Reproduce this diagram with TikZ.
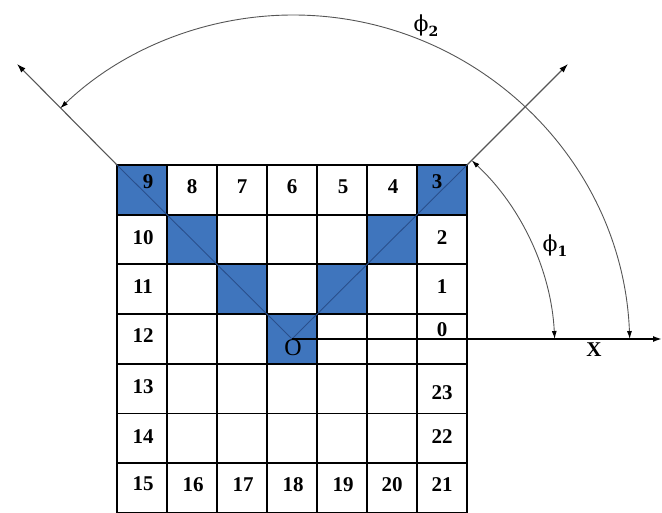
\documentclass[tikz,border=0pt]{standalone}
\usepackage{fontspec}
\setmainfont{Liberation Serif}
\newfontfamily\phifont{DejaVu Serif}
\usetikzlibrary{arrows.meta}
\definecolor{cellblue}{HTML}{3F75BD}
\definecolor{diagblue}{HTML}{2A4F8C}
\definecolor{guide}{HTML}{555555}
\begin{document}
\begin{tikzpicture}[x=1pt,y=1pt,
  num/.style={font=\fontsize{21}{21}\selectfont\bfseries, inner sep=0pt},
  gridline/.style={line width=1.8pt, black, line cap=rect},
  tipend/.style={-{Latex[length=9pt,width=6pt,color=black]}},
  guideline/.style={guide, line width=1.1pt},
  arcline/.style={guide, line width=0.9pt, {Latex[length=8pt,width=5pt,color=black]}-{Latex[length=8pt,width=5pt,color=black]}}]
\useasboundingbox (0,0) rectangle (662,513);
% blue cells
\foreach \i/\j in {0/0,1/1,2/2,3/3,4/2,5/1,6/0}
  \fill[cellblue] (117+\i*50, 348-\j*49.7) rectangle ++(50,-49.7);
% grid
\foreach \i in {0,...,7}
  \draw[gridline] (117+\i*50, 348) -- (117+\i*50, 0);
\foreach \j in {0,...,7}
  \draw[gridline] (117, 348-\j*49.7) -- (467, 348-\j*49.7);
% key points
\coordinate (O) at (292,174);
\coordinate (TL) at (117,348);
\coordinate (TR) at (467,348);
\coordinate (LT) at (17,449);
\coordinate (RT) at (568,449);
\coordinate (XE) at (662,174);
\coordinate (C) at (293,161);
% diagonals
\draw[diagblue, line width=0.9pt] (TL) -- (O) -- (TR);
% guide lines
\draw[guideline, tipend] (TL) -- (LT);
\draw[guideline, tipend] (TR) -- (RT);
% x axis
\draw[line width=1.6pt, tipend] (O) -- (XE);
% arcs
\draw[arcline] ([shift={(2.2:337)}]C) arc[start angle=2.2, end angle=133.7, radius=337];
\draw[arcline] ([shift={(2.85:262)}]C) arc[start angle=2.85, end angle=47, radius=262];
% numbers
\node[num] (n9) at (148,331) {9};
\node[num] (n8) at (192,326) {8};
\node[num] (n7) at (242,326) {7};
\node[num] (n6) at (292,326) {6};
\node[num] (n5) at (343,326) {5};
\node[num] (n4) at (393,326) {4};
\node[num] (n3) at (437,331) {3};
\node[num] (n10) at (143,275) {10};
\node[num] (n11) at (143,226) {11};
\node[num] (n12) at (143,177) {12};
\node[num] (n13) at (143,126) {13};
\node[num] (n14) at (143,76) {14};
\node[num] (n15) at (143,29) {15};
\node[num] (n16) at (193,28) {16};
\node[num] (n17) at (243,28) {17};
\node[num] (n18) at (293,28) {18};
\node[num] (n19) at (343,28) {19};
\node[num] (n20) at (392,28) {20};
\node[num] (n21) at (442,28) {21};
\node[num] (n2) at (442,275) {2};
\node[num] (n1) at (442,226) {1};
\node[num] (n0) at (442,183) {0};
\node[num] (n23) at (442,120) {23};
\node[num] (n22) at (442,76) {22};
% labels
\node[font=\fontsize{24}{24}\selectfont, inner sep=0pt] (Olab) at (293,165) {O};
\node[num] (Xlab) at (594,163) {X};
\node[inner sep=0pt] (phi2) at (426,487) {\phifont\fontsize{22}{22}\selectfont ϕ\raisebox{-5pt}{\fontsize{14}{14}\selectfont\bfseries 2}};
\node[inner sep=0pt] (phi1) at (555,267) {\phifont\fontsize{22}{22}\selectfont ϕ\raisebox{-5pt}{\fontsize{14}{14}\selectfont\bfseries 1}};
\end{tikzpicture}
\end{document}
